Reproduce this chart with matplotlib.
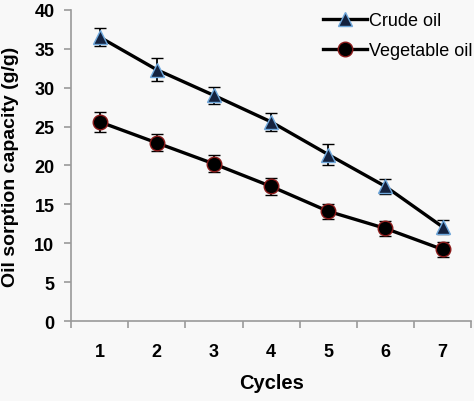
import matplotlib
matplotlib.use("Agg")
import matplotlib.pyplot as plt
from matplotlib.lines import Line2D

# values
cycles = [1, 2, 3, 4, 5, 6, 7]
crude = [36.5, 32.3, 29.0, 25.6, 21.4, 17.3, 12.1]
crude_err = [1.2, 1.5, 1.1, 1.2, 1.3, 1.0, 0.9]
veg = [25.6, 22.9, 20.2, 17.3, 14.1, 11.9, 9.2]
veg_err = [1.3, 1.1, 1.1, 1.1, 1.0, 1.0, 1.0]
yticks = [0, 5, 10, 15, 20, 25, 30, 35, 40]

plt.rcParams['font.family'] = ['Liberation Sans', 'DejaVu Sans']

fig = plt.figure(figsize=(4.74, 4.02), dpi=100)
fig.patch.set_facecolor('#f8f8f8')
ax = fig.add_axes([0.150, 0.199, 0.844, 0.774])
ax.set_facecolor('#f8f8f8')

crude_style = dict(color='black', lw=2.4, marker='^', ms=10.5, mfc='#14223f',
                   mec='#6fa8dc', mew=1.0)
veg_style = dict(color='black', lw=2.4, marker='o', ms=10.5, mfc='black',
                 mec='#8b1a1a', mew=1.0)

ax.errorbar(cycles, crude, yerr=crude_err, ecolor='black', elinewidth=1.3,
            capsize=4.5, capthick=2, zorder=3, **crude_style)
ax.errorbar(cycles, veg, yerr=veg_err, ecolor='black', elinewidth=1.3,
            capsize=4.5, capthick=2, zorder=3, **veg_style)

ax.set_xlim(0.5, 7.5)
ax.set_ylim(0, 40)
ax.set_yticks(yticks)
ax.set_xticks([c - 0.5 for c in cycles] + [7.5])
ax.set_xticklabels([])
ax.set_xticks(cycles, minor=True)
ax.set_xticklabels([str(c) for c in cycles], minor=True)

for s in ['top', 'right']:
    ax.spines[s].set_visible(False)
for s in ['left', 'bottom']:
    ax.spines[s].set_color('#9a9a9a')
    ax.spines[s].set_linewidth(1.2)

ax.tick_params(axis='y', direction='out', length=5, width=1.2, color='#9a9a9a',
               pad=7, labelsize=13)
ax.tick_params(axis='x', which='major', direction='out', length=5, width=1.2,
               color='#9a9a9a')
ax.tick_params(axis='x', which='minor', length=0, pad=16, labelsize=13)
for lbl in ax.get_yticklabels() + ax.get_xticklabels(minor=True):
    lbl.set_fontweight('bold')

ax.set_xlabel('Cycles', fontsize=14.5, fontweight='bold', labelpad=9)
fig.text(0.022, 0.585, 'Oil sorption capacity (g/g)', rotation=90,
         fontsize=14, fontweight='bold', ha='center', va='center')

handles = [Line2D([], [], **crude_style), Line2D([], [], **veg_style)]
ax.legend(handles, ['Crude oil', 'Vegetable oil'], loc='upper left',
          bbox_to_anchor=(0.682, 0.968), bbox_transform=fig.transFigure,
          frameon=False, fontsize=13, handlelength=2.4, handletextpad=0.15,
          labelspacing=0.75, borderpad=0, borderaxespad=0)

fig.savefig('out.png', dpi=100, facecolor=fig.get_facecolor())
